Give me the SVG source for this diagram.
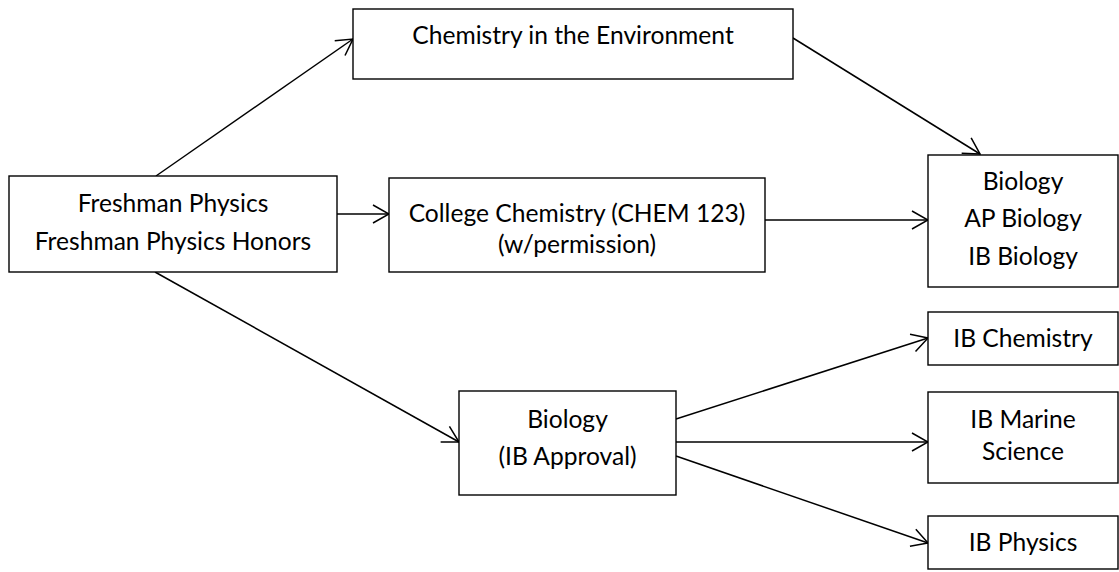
<svg xmlns="http://www.w3.org/2000/svg" width="1119" height="572" viewBox="0 0 1119 572">
<defs>
<style>
.box{fill:#fff;stroke:#000;stroke-width:1.4}
.t{font-family:Lato,"Liberation Sans",sans-serif;font-size:24.6px;fill:#000;text-anchor:middle}
.c{stroke:#000;stroke-width:1.5;fill:none}
</style>
<marker id="ah" markerUnits="userSpaceOnUse" viewBox="0 0 18 20" refX="17" refY="10" markerWidth="18" markerHeight="20" orient="auto">
<path d="M1,1 L17,10 L1,19" fill="none" stroke="#000" stroke-width="1.5"/>
</marker>
</defs>
<rect width="1119" height="572" fill="#fff"/>
<g id="connectors">
<line class="c" x1="156" y1="176" x2="353" y2="39" marker-end="url(#ah)"/>
<line class="c" x1="793" y1="38" x2="980" y2="154" marker-end="url(#ah)"/>
<line class="c" x1="337" y1="214" x2="389" y2="214" marker-end="url(#ah)"/>
<line class="c" x1="765" y1="220" x2="928" y2="220" marker-end="url(#ah)"/>
<line class="c" x1="155" y1="272" x2="459" y2="442" marker-end="url(#ah)"/>
<line class="c" x1="676" y1="419" x2="928" y2="338" marker-end="url(#ah)"/>
<line class="c" x1="676" y1="442" x2="928" y2="442" marker-end="url(#ah)"/>
<line class="c" x1="676" y1="456" x2="928" y2="543" marker-end="url(#ah)"/>
</g>
<g id="freshman">
<rect class="box" x="9" y="176" width="328" height="96"/>
<text class="t" x="173" y="212">Freshman Physics</text>
<text class="t" x="173" y="250">Freshman Physics Honors</text>
</g>
<g id="chem-env">
<rect class="box" x="353" y="9" width="440" height="70"/>
<text class="t" x="573" y="44">Chemistry in the Environment</text>
</g>
<g id="college-chem">
<rect class="box" x="389" y="178" width="376" height="94"/>
<text class="t" x="577" y="222">College Chemistry (CHEM 123)</text>
<text class="t" x="577" y="253">(w/permission)</text>
</g>
<g id="biology-ap-ib">
<rect class="box" x="928" y="155" width="190" height="132"/>
<text class="t" x="1023" y="190">Biology</text>
<text class="t" x="1023" y="227">AP Biology</text>
<text class="t" x="1023" y="265">IB Biology</text>
</g>
<g id="biology-ib-approval">
<rect class="box" x="459" y="391" width="217" height="104"/>
<text class="t" x="567.5" y="428">Biology</text>
<text class="t" x="567.5" y="465">(IB Approval)</text>
</g>
<g id="ib-chemistry">
<rect class="box" x="928" y="312" width="190" height="53"/>
<text class="t" x="1023" y="347">IB Chemistry</text>
</g>
<g id="ib-marine">
<rect class="box" x="928" y="392" width="190" height="91"/>
<text class="t" x="1023" y="428">IB Marine</text>
<text class="t" x="1023" y="460">Science</text>
</g>
<g id="ib-physics">
<rect class="box" x="928" y="516" width="190" height="53"/>
<text class="t" x="1023" y="551">IB Physics</text>
</g>
</svg>
